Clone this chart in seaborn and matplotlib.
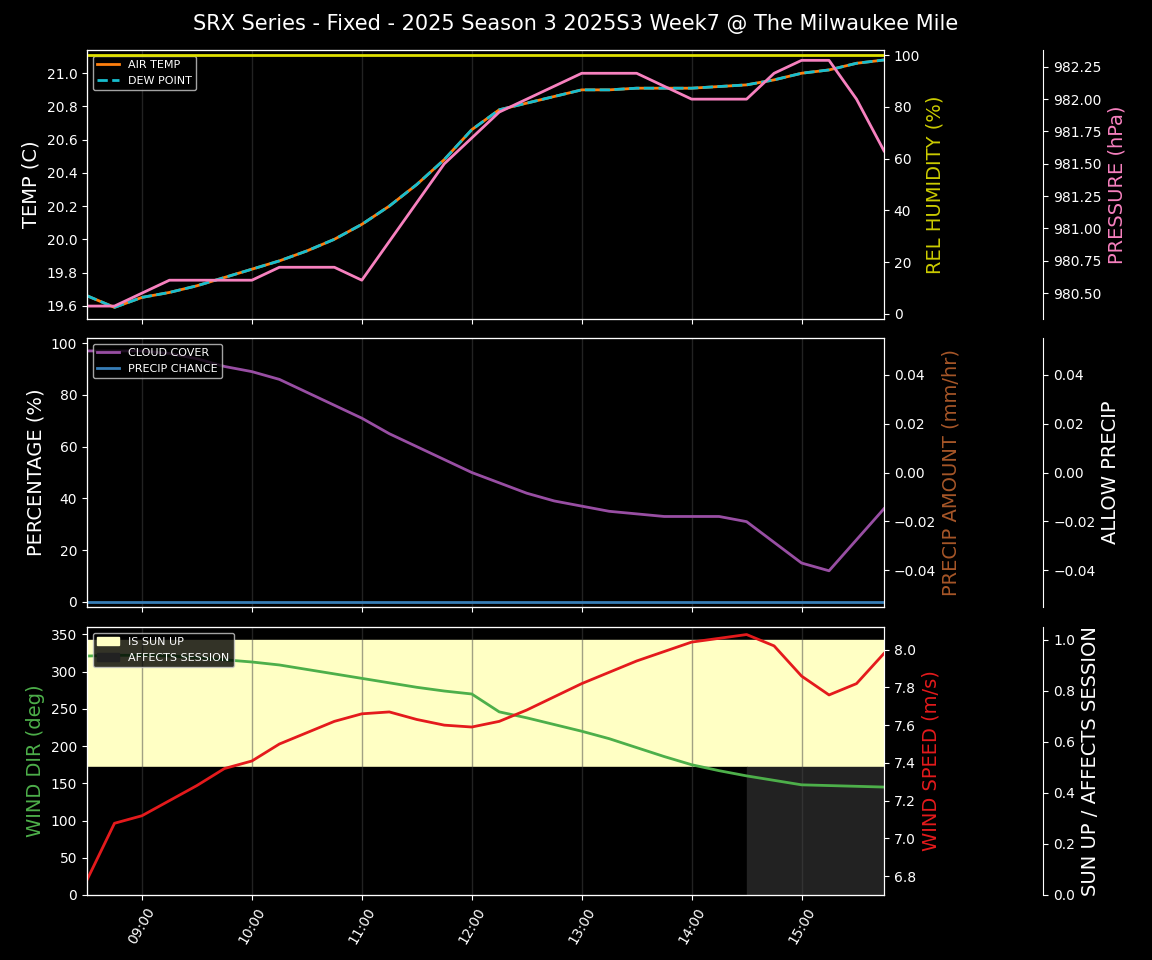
import numpy as np
import pandas as pd
import matplotlib
matplotlib.use("Agg")
import matplotlib.pyplot as plt
import matplotlib.dates as mdates
import matplotlib.patches as mpatches
import seaborn as sns

times = pd.date_range("2025-01-01 08:30", "2025-01-01 15:45", freq="15min")
air_temp = [19.66,19.59,19.65,19.68,19.72,19.77,19.82,19.87,19.93,20.0,20.09,20.2,20.33,20.48,20.66,
            20.78,20.82,20.86,20.9,20.9,20.91,20.91,20.91,20.92,20.93,20.96,21.0,21.02,21.06,21.08]
dew_point = air_temp
humidity = [100]*30
pressure = [980.4,980.4,980.5,980.6,980.6,980.6,980.6,980.7,980.7,980.7,980.6,980.9,981.2,981.5,981.7,
            981.9,982.0,982.1,982.2,982.2,982.2,982.1,982.0,982.0,982.0,982.2,982.3,982.3,982.0,981.6]
cloud = [97,97,97,96,94,91,89,86,81,76,71,65,60,55,50,46,42,39,37,35,34,33,33,33,31,23,15,12,24,36]
precip_chance = [0]*30
precip_amount = [0]*30
allow_precip = [0]*30
wind_dir = [321,322,322,321,319,316,313,309,303,297,291,285,279,274,270,246,238,229,220,210,198,186,175,167,160,154,148,147,146,145]
wind_speed = [6.78,7.08,7.12,7.2,7.28,7.37,7.41,7.5,7.56,7.62,7.66,7.67,7.63,7.6,7.59,7.62,7.68,7.75,7.82,7.88,
              7.94,7.99,8.04,8.06,8.08,8.02,7.86,7.76,7.82,7.98]
sun_up = [1]*30
affects = [1]*25 + [0]*5

df = pd.DataFrame(dict(t=times, air=air_temp, dew=dew_point, hum=humidity, pres=pressure, cloud=cloud,
                       pc=precip_chance, pa=precip_amount, ap=allow_precip, wd=wind_dir, ws=wind_speed,
                       sun=sun_up, aff=affects))

plt.style.use("dark_background")
fig = plt.figure(figsize=(11.52, 9.6), dpi=100)
L, W = 87/1152, (884-87)/1152
def ax_at(top, bot):
    return fig.add_axes([L, 1-bot/960, W, (bot-top)/960])
ax1 = ax_at(50, 319); ax2 = ax_at(338, 607); ax3 = ax_at(627, 895)
fig.suptitle("SRX Series - Fixed - 2025 Season 3 2025S3 Week7 @ The Milwaukee Mile", fontsize=15, y=0.985)

def third(ax):
    a = ax.twinx()
    a.spines["right"].set_position(("axes", 1.2))
    return a

# top
sns.lineplot(data=df, x="t", y="air", ax=ax1, color="#ff7f0e", lw=2, label="AIR TEMP")
sns.lineplot(data=df, x="t", y="dew", ax=ax1, color="#17becf", lw=2, ls="--", label="DEW POINT")
ax1.set_ylabel("TEMP (C)", fontsize=14)
ax1.set_ylim(19.52, 21.14)
h1 = ax1.twinx()
sns.lineplot(data=df, x="t", y="hum", ax=h1, color="#e0e000", lw=2, legend=False)
h1.set_ylim(-2, 102); h1.set_ylabel("REL HUMIDITY (%)", color="#cccc00", fontsize=14)
p1 = third(ax1)
sns.lineplot(data=df, x="t", y="pres", ax=p1, color="#f781bf", lw=2, legend=False)
p1.set_ylim(980.3, 982.38); p1.set_ylabel("PRESSURE (hPa)", color="#f781bf", fontsize=14)
ax1.legend(loc="upper left", fontsize=8)

# middle
sns.lineplot(data=df, x="t", y="cloud", ax=ax2, color="#984ea3", lw=2, label="CLOUD COVER")
sns.lineplot(data=df, x="t", y="pc", ax=ax2, color="#377eb8", lw=2, label="PRECIP CHANCE")
ax2.set_ylabel("PERCENTAGE (%)", fontsize=14); ax2.set_ylim(-2, 102)
h2 = ax2.twinx()
sns.lineplot(data=df, x="t", y="pa", ax=h2, color="#a65628", lw=0, legend=False)
h2.set_ylabel("PRECIP AMOUNT (mm/hr)", color="#a65628", fontsize=14); h2.set_ylim(-0.055, 0.055)
p2 = third(ax2)
sns.lineplot(data=df, x="t", y="ap", ax=p2, color="white", lw=0, legend=False)
p2.set_ylabel("ALLOW PRECIP", fontsize=14); p2.set_ylim(-0.055, 0.055)
ax2.legend(loc="upper left", fontsize=8)

# bottom
p3 = third(ax3)
p3.fill_between(df.t, 0, np.array(sun_up), color="#ffffc4", step=None)
aff = np.array(affects)
p3.fill_between(df.t, 0, 0.5, where=aff == 1, color="black")
p3.fill_between(df.t, 0, 0.5, where=np.r_[aff[1:] == 0, True] & (np.arange(30) >= 24), color="#222222")
p3.set_ylim(0, 1.05*1.0 if False else 1.0/0.93*1.0)
p3.set_ylim(0, 1.05)
p3.set_ylabel("SUN UP / AFFECTS SESSION", fontsize=14)
ax3.set_zorder(p3.get_zorder()+1); ax3.patch.set_visible(False)
sns.lineplot(data=df, x="t", y="wd", ax=ax3, color="#4daf4a", lw=2, legend=False)
ax3.set_ylim(0, 360); ax3.set_yticks(range(0, 351, 50))
ax3.set_ylabel("WIND DIR (deg)", color="#4daf4a", fontsize=14)
h3 = ax3.twinx()
sns.lineplot(data=df, x="t", y="ws", ax=h3, color="#e41a1c", lw=2, legend=False)
h3.set_ylim(6.7, 8.12); h3.set_ylabel("WIND SPEED (m/s)", color="#e41a1c", fontsize=14)
ax3.legend(handles=[mpatches.Patch(color="#ffffc4", label="IS SUN UP"),
                    mpatches.Patch(color="#222222", label="AFFECTS SESSION")],
           loc="upper left", fontsize=8)

for ax in (ax1, ax2, ax3):
    ax.set_xlim(times[0], times[-1])
    ax.set_xlabel("")
    ax.xaxis.set_major_locator(mdates.HourLocator())
    ax.xaxis.set_major_formatter(mdates.DateFormatter("%H:%M"))
    ax.grid(axis="x", color="#444444", alpha=0.5, lw=1)
for ax in (ax1, ax2):
    ax.tick_params(labelbottom=False)
plt.setp(ax3.get_xticklabels(), rotation=60)

fig.savefig("out.png", dpi=100, facecolor="black")
